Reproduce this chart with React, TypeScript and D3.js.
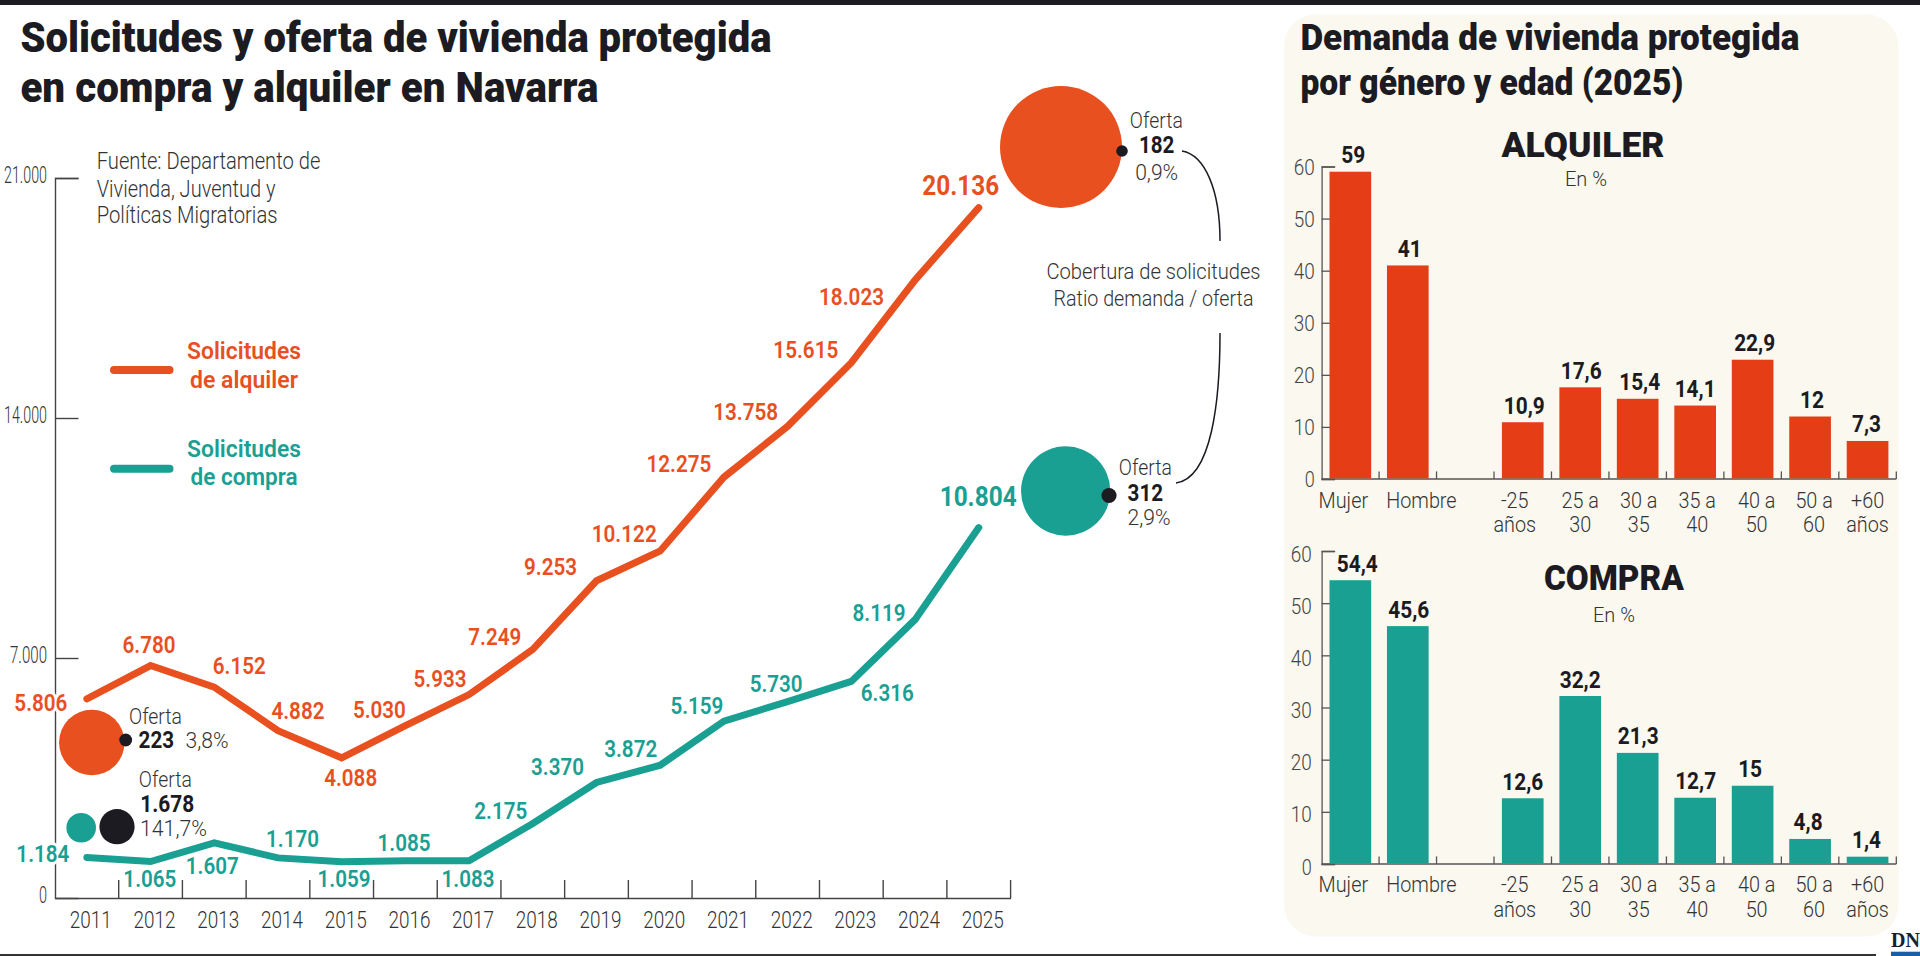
import { useRef, useEffect } from 'react';
import * as d3 from 'd3';

const years = ['2011', '2012', '2013', '2014', '2015', '2016', '2017', '2018', '2019', '2020', '2021', '2022', '2023', '2024', '2025'];
const alquiler = [5806, 6780, 6152, 4882, 4088, 5030, 5933, 7249, 9253, 10122, 12275, 13758, 15615, 18023, 20136];
const compra = [1184, 1065, 1607, 1170, 1059, 1085, 1083, 2175, 3370, 3872, 5159, 5730, 6316, 8119, 10804];
const yTicks = [0, 7000, 14000, 21000];

const categories = ['Mujer', 'Hombre', '', '-25\naños', '25 a\n30', '30 a\n35', '35 a\n40', '40 a\n50', '50 a\n60', '+60\naños'];
const alquilerPct = [59, 41, null, 10.9, 17.6, 15.4, 14.1, 22.9, 12, 7.3];
const compraPct = [54.4, 45.6, null, 12.6, 32.2, 21.3, 12.7, 15, 4.8, 1.4];
const pctTicks = [0, 10, 20, 30, 40, 50, 60];

// orden: alquiler 2025, compra 2025, alquiler 2011, compra 2011
const demanda = [20136, 10804, 5806, 1184];
const oferta = [182, 312, 223, 1678];
const cobertura = [0.9, 2.9, 3.8, 141.7];

// colocacion de etiquetas (desplazamiento respecto al punto)
const alquilerOffsets = [[-46, 12], [-1.5, -13], [25, -13], [20, -12], [9, 28], [-26, -7.5], [-29, -7.6], [-38, -4.5], [-46, -6], [-36, -8.5], [-45, -5], [-42, -6], [-45.5, -4.6], [-63.5, 25], [-18, -12.6]];
const compraOffsets = [[-44, 4.3], [-0.7, 25.8], [-2, 31], [14.6, -10.6], [2.4, 25.6], [-1.3, -10], [-1, 26.4], [-32, -4], [-39, -7], [-29.5, -8.5], [-27, -7], [-11.5, -10], [36, 19.6], [-36, 1], [-0.6, -21.6]];
const alquilerBarDx = [3, 2, 0, 1.5, 1, 2, 0, 2, 2, -1];
const compraBarDx = [7, 1, 0, 0, 0, 0.5, 0.5, -2.5, -2, -1];
const catDx = [-7, 13.6, 0, -8, 0, 1, 2, 4, 4, 0];

const bubbleCenters = [[1061, 147], [1065.7, 491], [91.8, 742.5], [81.2, 827.7]];
const dotCenters = [[1122, 151], [1109, 495.5], [125.7, 740], [117, 826.7]];
const ofertaWord = [[1156.3, 128.3], [1145.3, 475], [155.5, 724.3], [165.3, 787.3]];
const ofertaNum = [[1156.7, 153.4], [1145.3, 500.7], [156.3, 747.7], [167.3, 811.7]];
const ofertaPct = [[1156.7, 180], [1149, 524.8], [207, 747.7], [173.5, 836]];

const ORANGE = '#E8501F';
const TEAL = '#19A093';
const RED = '#E53D16';
const INK = '#1B1B21';
const GREY = '#333333';
const FONT = 'Roboto, sans-serif';

const es = d3.formatLocale({ decimal: ',', thousands: '.', grouping: [3], currency: ['', '€'] });
const miles = es.format(',d');
const dec = (v: number) => String(v).replace('.', ',');

type TextOpts = { size: number; weight?: number; fill?: string; anchor?: string; width?: number; squeeze?: number; family?: string };

function addText(parent: any, str: string, x: number, y: number, o: TextOpts) {
  const t = parent.append('text')
    .attr('x', x)
    .attr('y', y)
    .attr('font-family', o.family || FONT)
    .attr('font-size', o.size)
    .attr('font-weight', o.weight || 400)
    .attr('fill', o.fill || GREY)
    .attr('text-anchor', o.anchor || 'middle')
    .text(str);
  const w = o.width || (o.squeeze ? t.node().getComputedTextLength() * o.squeeze : 0);
  if (w) t.attr('textLength', w).attr('lengthAdjust', 'spacingAndGlyphs');
  return t;
}

function drawBars(svg: any, values: (number | null)[], color: string, top: number, bottom: number, barDx: number[], labelDy: number, catY: number, yLabelX: number) {
  const x = d3.scaleBand().domain(categories).range([1321.6, 1896.3]).paddingInner(0.275).paddingOuter(0.1375);
  const y = d3.scaleLinear().domain([0, 60]).range([bottom, top]);
  const g = svg.append('g');

  const yAxis = g.append('g').attr('transform', 'translate(1321.6,0)')
    .call(d3.axisLeft(y).tickValues(pctTicks).tickSize(-13.5).tickPadding(0));
  yAxis.selectAll('line').attr('stroke', '#555').attr('stroke-width', 1.3);
  yAxis.select('.domain').attr('stroke', '#555').attr('stroke-width', 1.3);
  yAxis.selectAll('text')
    .attr('x', yLabelX - 1321.6)
    .attr('dy', labelDy)
    .attr('font-family', FONT)
    .attr('font-size', 22)
    .attr('font-weight', 300)
    .attr('fill', '#444')
    .attr('textLength', 21)
    .attr('lengthAdjust', 'spacingAndGlyphs');
  yAxis.selectAll('.tick').filter((d: number) => d === 0).select('text').attr('textLength', 10);

  const step = x.step();
  g.append('g').selectAll('line').data(categories).join('line')
    .attr('x1', (d: string) => x(d)! + x.bandwidth() + step * 0.1375)
    .attr('x2', (d: string) => x(d)! + x.bandwidth() + step * 0.1375)
    .attr('y1', bottom - 7.6)
    .attr('y2', bottom)
    .attr('stroke', '#555')
    .attr('stroke-width', 1.3);
  g.append('line')
    .attr('x1', 1321.6).attr('x2', 1896.3)
    .attr('y1', bottom).attr('y2', bottom)
    .attr('stroke', '#555').attr('stroke-width', 1.5);

  categories.forEach((c, i) => {
    const v = values[i];
    if (v !== null) {
      g.append('rect')
        .attr('x', x(c)!)
        .attr('y', y(v))
        .attr('width', x.bandwidth())
        .attr('height', bottom - y(v) - 0.7)
        .attr('fill', color);
      const s = dec(v);
      addText(g, s, x(c)! + x.bandwidth() / 2 + barDx[i], y(v) - 8.5, {
        size: 23,
        weight: 700,
        fill: INK,
        width: s.length === 4 ? 41 : s.length === 3 ? 29 : 24,
      });
    }
    c.split('\n').forEach((line, k) => {
      addText(g, line, x(c)! + x.bandwidth() / 2 + catDx[i], catY + k * 24.4, { size: 22, weight: 300, fill: '#333', squeeze: 0.9 });
    });
  });
}

export default function App() {
  const ref = useRef<SVGSVGElement>(null);

  useEffect(() => {
    if (!ref.current) return;
    const svg = d3.select(ref.current);
    svg.selectAll('*').remove();

    // marcos
    svg.append('rect').attr('width', 1920).attr('height', 5).attr('fill', INK);
    svg.append('rect').attr('y', 954).attr('width', 1876).attr('height', 2).attr('fill', '#333');
    svg.append('rect').attr('x', 1284).attr('y', 14.5).attr('width', 614.5).attr('height', 922).attr('rx', 32).attr('fill', '#FAF8EF');

    addText(svg, 'Solicitudes y oferta de vivienda protegida', 20.4, 51.7, { size: 43, weight: 900, fill: INK, anchor: 'start', width: 751 });
    addText(svg, 'en compra y alquiler en Navarra', 20.4, 101.7, { size: 43, weight: 900, fill: INK, anchor: 'start', width: 578 });
    addText(svg, 'Demanda de vivienda protegida', 1300.4, 50, { size: 36, weight: 900, fill: INK, anchor: 'start', width: 499 });
    addText(svg, 'por género y edad (2025)', 1300.4, 94.8, { size: 36, weight: 900, fill: INK, anchor: 'start', width: 383 });

    ['Fuente: Departamento de', 'Vivienda, Juventud y', 'Políticas Migratorias'].forEach((s, i) => {
      addText(svg, s, 96.7, [169, 196.7, 222.7][i], { size: 23, weight: 300, anchor: 'start', width: [223.7, 178.8, 180.8][i] });
    });

    // grafico de lineas
    const x = d3.scaleBand().domain(years).range([55, 1010.6]);
    const y = d3.scaleLinear().domain([0, 21000]).range([898, 178]);
    const px = (i: number) => x(years[i])! + x.bandwidth() / 2;

    const yAxis = svg.append('g').attr('transform', 'translate(55,0)')
      .call(d3.axisLeft(y).tickValues(yTicks).tickSize(-23.5).tickFormat((d: any) => miles(d)));
    yAxis.selectAll('line').attr('stroke', '#444').attr('stroke-width', 1.4);
    yAxis.select('.domain').attr('stroke', '#444').attr('stroke-width', 1.4);
    yAxis.selectAll('text')
      .attr('x', -8)
      .attr('dy', 4.7)
      .attr('font-family', FONT)
      .attr('font-size', 23)
      .attr('font-weight', 300)
      .attr('fill', GREY)
      .attr('lengthAdjust', 'spacingAndGlyphs')
      .attr('textLength', (d: number) => (d === 0 ? 8 : d === 7000 ? 37 : 43));
    yAxis.selectAll('.tick').filter((d: number) => d === 0).select('line').remove();

    const xAxis = svg.append('g').attr('transform', 'translate(0,898)')
      .call(d3.axisBottom(x).tickSize(0).tickSizeOuter(0));
    xAxis.select('.domain').attr('stroke', '#444').attr('stroke-width', 1.4);
    xAxis.selectAll('text')
      .attr('x', 4)
      .attr('y', 29.7)
      .attr('dy', 0)
      .attr('font-family', FONT)
      .attr('font-size', 24.5)
      .attr('font-weight', 300)
      .attr('fill', GREY)
      .attr('textLength', 42)
      .attr('lengthAdjust', 'spacingAndGlyphs');
    svg.append('g').selectAll('line').data(years).join('line')
      .attr('x1', (d: string) => x(d)! + x.bandwidth())
      .attr('x2', (d: string) => x(d)! + x.bandwidth())
      .attr('y1', 880)
      .attr('y2', 898)
      .attr('stroke', '#444')
      .attr('stroke-width', 1.4);

    const line = d3.line<number>().x((_, i) => px(i)).y((d) => y(d));
    [[alquiler, ORANGE, alquilerOffsets], [compra, TEAL, compraOffsets]].forEach(([vals, color, offs]: any) => {
      svg.append('path')
        .attr('d', line(vals))
        .attr('fill', 'none')
        .attr('stroke', color)
        .attr('stroke-width', 7)
        .attr('stroke-linecap', 'round')
        .attr('stroke-linejoin', 'miter');
      vals.forEach((v: number, i: number) => {
        const last = i === vals.length - 1;
        const t = addText(svg, miles(v), px(i) + offs[i][0], y(v) + offs[i][1], {
          size: last ? 28 : 23.5,
          weight: last ? 700 : 600,
          fill: color,
          width: last ? 77 : v >= 10000 ? 65 : 53,
        });
        // el eje queda cortado detras de la primera etiqueta
        if (i === 0) t.attr('stroke', '#fff').attr('stroke-width', 6).attr('paint-order', 'stroke');
      });
    });

    // leyenda
    [[370, ORANGE, 'Solicitudes', 'de alquiler', 108, 359.3, 387.7], [468.7, TEAL, 'Solicitudes', 'de compra', 107, 456.7, 485]].forEach(([ly, color, a, b, w, y1, y2]: any) => {
      svg.append('line')
        .attr('x1', 114).attr('x2', 169.5)
        .attr('y1', ly).attr('y2', ly)
        .attr('stroke', color).attr('stroke-width', 8).attr('stroke-linecap', 'round');
      addText(svg, a, 244, y1, { size: 23.5, weight: 600, fill: color, width: 114 });
      addText(svg, b, 244, y2, { size: 23.5, weight: 600, fill: color, width: w });
    });

    // burbujas
    const r = d3.scaleSqrt().domain([0, 20136]).range([0, 61]);
    const fills = [ORANGE, TEAL, ORANGE, TEAL];
    demanda.forEach((d, i) => {
      svg.append('circle').attr('cx', bubbleCenters[i][0]).attr('cy', bubbleCenters[i][1]).attr('r', r(d)).attr('fill', fills[i]);
      svg.append('circle').attr('cx', dotCenters[i][0]).attr('cy', dotCenters[i][1]).attr('r', r(oferta[i])).attr('fill', INK);
      addText(svg, 'Oferta', ofertaWord[i][0], ofertaWord[i][1], { size: 22, weight: 300, width: 53 });
      addText(svg, miles(oferta[i]), ofertaNum[i][0], ofertaNum[i][1], { size: 23, weight: 700, fill: INK, width: oferta[i] > 999 ? 54 : 35.5 });
      addText(svg, dec(cobertura[i]) + '%', ofertaPct[i][0], ofertaPct[i][1], { size: 22, weight: 300, width: cobertura[i] > 100 ? 67 : 43 });
    });

    svg.append('path').attr('d', 'M1182,151 C1205,155 1220,190 1220,241').attr('fill', 'none').attr('stroke', INK).attr('stroke-width', 1.5);
    svg.append('path').attr('d', 'M1220,333 C1220,400 1212,478 1176,483').attr('fill', 'none').attr('stroke', INK).attr('stroke-width', 1.5);
    addText(svg, 'Cobertura de solicitudes', 1153.5, 278.6, { size: 22, weight: 300, width: 214 });
    addText(svg, 'Ratio demanda / oferta', 1153.5, 305.5, { size: 22, weight: 300, width: 200 });

    // barras
    drawBars(svg, alquilerPct, RED, 166.5, 479, alquilerBarDx, 7.6, 507.6, 1314.7);
    addText(svg, 'ALQUILER', 1582.9, 157.2, { size: 35, weight: 900, fill: INK, width: 163 });
    addText(svg, 'En %', 1586, 186, { size: 21, weight: 300, width: 42 });

    drawBars(svg, compraPct, TEAL, 551, 864, compraBarDx, 10, 892.3, 1311.8);
    addText(svg, 'COMPRA', 1613.9, 590, { size: 35, weight: 900, fill: INK, width: 140 });
    addText(svg, 'En %', 1614, 621.7, { size: 21, weight: 300, width: 42 });

    addText(svg, 'DN', 1891, 946.7, { size: 20, weight: 700, fill: '#123', anchor: 'start', family: 'Liberation Serif, serif' });
    svg.append('rect').attr('x', 1891).attr('y', 951.7).attr('width', 29).attr('height', 4.3).attr('fill', '#1B5EA8');
  }, []);

  return (
    <svg
      ref={ref}
      width={1920}
      height={956}
      style={{ position: 'absolute', left: 0, top: 0, display: 'block', background: '#fff' }}
    />
  );
}
